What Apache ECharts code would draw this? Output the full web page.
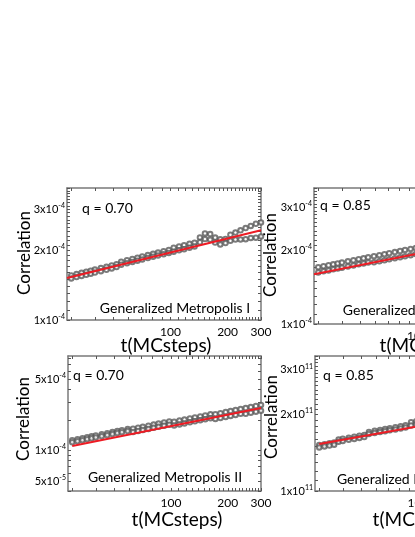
<!DOCTYPE html>
<html><head><meta charset="utf-8">
<script src="https://cdn.jsdelivr.net/npm/echarts@6/dist/echarts.min.js"></script>
<style>html,body{margin:0;padding:0;background:#fff;overflow:hidden;width:415px;height:537px}#c{width:530px;height:537px}</style>
</head><body><div id="c"></div>
<script>
// ---- data (t in MC steps, correlation in panel units) ----
const tSteps = [30,32,34,36,38,40,43,46,49,52,55,59,63,67,71,76,81,86,92,98,104,111,118,126,134,143,152,162,172,183,195,207,220,234,249,265,282,300];
const xLabelTicks = [100,200,300];
const xMinorTicks = [30,40,50,60,70,80,90,100,110,120,130,140,150,160,170,180,190,200,210,220,230,240,250,260,270,280,290,300];

// top-left: q = 0.70, Generalized Metropolis I  (units 1e-4)
const tlUpper = [1.556,1.576,1.596,1.614,1.631,1.648,1.673,1.695,1.717,1.738,1.783,1.809,1.832,1.855,1.877,1.903,1.927,1.951,1.978,2.002,2.047,2.074,2.099,2.127,2.153,2.266,2.358,2.345,2.264,2.226,2.233,2.328,2.380,2.432,2.486,2.541,2.596,2.630];
const tlLower = [1.510,1.530,1.548,1.566,1.583,1.600,1.623,1.645,1.667,1.690,1.731,1.756,1.779,1.801,1.822,1.848,1.871,1.894,1.920,1.944,1.968,1.994,2.018,2.045,2.070,2.161,2.230,2.216,2.155,2.116,2.144,2.192,2.219,2.223,2.228,2.256,2.260,2.289];
const tlFit = [[28.5,1.517],[300,2.435]];
const tlYTicks = [1,1.1,1.2,1.3,1.4,1.5,1.6,1.7,1.8,1.9,2,2.1,2.2,2.3,2.4,2.5,2.6,2.7,2.8,2.9,3,3.1,3.2,3.3,3.4,3.5,3.6,3.7];
const tlYLabels = [1,2,3];

// top-right: q = 0.85, Generalized Metropolis I  (units 1e-4)
const trUpper = [1.707,1.724,1.739,1.755,1.770,1.784,1.804,1.823,1.841,1.857,1.874,1.894,1.913,1.931,1.949,1.969,1.989,2.008,2.028,2.048,2.047,2.067,2.087,2.108,2.128,2.149,2.170,2.191,2.211,2.232,2.255,2.276,2.297,2.319,2.342,2.365,2.388,2.411];
const trLower = [1.626,1.642,1.657,1.673,1.687,1.700,1.719,1.737,1.754,1.770,1.786,1.787,1.805,1.822,1.839,1.858,1.876,1.894,1.913,1.932,1.910,1.930,1.948,1.968,1.986,2.006,2.026,2.045,2.064,2.083,2.105,2.125,2.144,2.165,2.185,2.207,2.229,2.250];
const trFit = [[28.5,1.597],[300,2.296]];
const trYTicks = [1,1.1,1.2,1.3,1.4,1.5,1.6,1.7,1.8,1.9,2,2.1,2.2,2.3,2.4,2.5,2.6,2.7,2.8,2.9,3,3.1,3.2,3.3,3.4,3.5,3.6];
const trYLabels = [1,2,3];

// bottom-left: q = 0.70, Generalized Metropolis II  (units 1e-4)
const blUpper = [1.263,1.294,1.324,1.352,1.379,1.407,1.446,1.482,1.517,1.552,1.585,1.627,1.637,1.676,1.712,1.757,1.800,1.840,1.887,1.932,1.923,1.970,2.015,2.066,2.114,2.166,2.216,2.269,2.278,2.332,2.387,2.442,2.497,2.556,2.616,2.678,2.740,2.804];
const blLower = [1.208,1.237,1.265,1.293,1.319,1.345,1.382,1.417,1.451,1.483,1.515,1.555,1.520,1.556,1.590,1.632,1.671,1.709,1.752,1.794,1.764,1.807,1.849,1.895,1.939,1.987,2.033,2.082,2.044,2.092,2.142,2.191,2.241,2.293,2.298,2.353,2.407,2.464];
const blFit = [[30,1.108],[300,2.621]];
const blYTicks = [0.4,0.5,0.6,0.7,0.8,0.9,1,2,3,4,5,6,7,8];
const blYLabels = [0.5,1,5];

// bottom-right: q = 0.85, Generalized Metropolis II  (units 1e11)
const brUpper = [1.516,1.529,1.541,1.553,1.596,1.606,1.622,1.636,1.650,1.663,1.709,1.725,1.740,1.754,1.767,1.783,1.799,1.814,1.865,1.881,1.895,1.857,1.873,1.889,1.904,1.921,1.937,1.953,1.969,1.985,2.001,2.018,2.034,2.051,2.068,2.085,2.102,2.120];
const brLower = [1.485,1.498,1.510,1.522,1.564,1.574,1.590,1.604,1.618,1.631,1.676,1.692,1.706,1.720,1.733,1.748,1.764,1.779,1.812,1.827,1.841,1.785,1.799,1.815,1.830,1.845,1.861,1.877,1.891,1.907,1.923,1.938,1.954,1.971,1.986,2.003,2.020,2.036];
const brFit = [[30,1.531],[300,2.078]];
const brYTicks = [1,1.1,1.2,1.3,1.4,1.5,1.6,1.7,1.8,1.9,2,2.1,2.2,2.3,2.4,2.5,2.6,2.7,2.8,2.9,3,3.1,3.2,3.3,3.4];
const brYLabels = [1,2,3];

// ---- layout ----
const FONT = 'Lato, "Liberation Sans", sans-serif';
const panels = [
  {unit:1e-4, up:tlUpper, lo:tlLower, fit:tlFit, yTicks:tlYTicks, yLabels:tlYLabels, ymin:1, ymax:3.7,
   grid:{left:67, top:188, width:194, height:132}, q:'q = 0.70', qx:82, qy:208, name:'Generalized Metropolis I', nx:175, ny:308,
   cx:25, cy:253, tx:166, ty:346},
  {unit:1e-4, up:trUpper, lo:trLower, fit:trFit, yTicks:trYTicks, yLabels:trYLabels, ymin:1, ymax:3.6,
   grid:{left:314, top:188, width:194, height:136}, q:'q = 0.85', qx:320, qy:205, name:'Generalized Metropolis I', nx:418, ny:310,
   cx:271, cy:255, tx:425, ty:346},
  {unit:1e-4, up:blUpper, lo:blLower, fit:blFit, yTicks:blYTicks, yLabels:blYLabels, ymin:0.4, ymax:8.5,
   grid:{left:68, top:356, width:193, height:135}, q:'q = 0.70', qx:73, qy:375, name:'Generalized Metropolis II', nx:165, ny:477,
   cx:24, cy:419, tx:177, ty:520},
  {unit:1e11, up:brUpper, lo:brLower, fit:brFit, yTicks:brYTicks, yLabels:brYLabels, ymin:1, ymax:3.4,
   grid:{left:315, top:356, width:193, height:135}, q:'q = 0.85', qx:323, qy:375, name:'Generalized Metropolis II', nx:414, ny:479,
   cx:272, cy:417, tx:418, ty:520}
];

const frame = {color:'#7a7a7a', width:1.5};
function yFmt(v){
  const e = Math.floor(Math.log10(v) + 1e-9);
  const m = Math.round(v / Math.pow(10, e));
  return '{m|' + m + 'x10}{e|' + e + '}';
}
const grids = [], xAxes = [], yAxes = [], series = [], graphics = [];
panels.forEach((p, i) => {
  grids.push(Object.assign({containLabel:false}, p.grid));
  const xBase = {gridIndex:i, type:'log', logBase:10, min:28.5, max:300,
    axisLine:{show:true, onZero:false, lineStyle:frame},
    axisTick:{show:true, inside:true, length:3, customValues:xMinorTicks, lineStyle:{color:'#555', width:1}},
    splitLine:{show:false}, minorTick:{show:false}, minorSplitLine:{show:false}};
  xAxes.push(Object.assign({}, xBase, {position:'bottom',
    axisLabel:{show:true, customValues:xLabelTicks, margin:6, fontSize:12, fontFamily:FONT, color:'#000',
      formatter: v => String(Math.round(v))}}));
  xAxes.push(Object.assign({}, xBase, {position:'top', axisLabel:{show:false}}));
  const yT = p.yTicks.map(v => v * p.unit);
  const yL = p.yLabels.map(v => v * p.unit);
  const yBase = {gridIndex:i, type:'log', logBase:10, min:p.ymin * p.unit, max:p.ymax * p.unit,
    axisLine:{show:true, onZero:false, lineStyle:frame},
    axisTick:{show:true, inside:true, length:3, customValues:yT, lineStyle:{color:'#555', width:1}},
    splitLine:{show:false}, minorTick:{show:false}};
  yAxes.push(Object.assign({}, yBase, {position:'left',
    axisLabel:{show:true, customValues:yL, margin:2, formatter:yFmt,
      rich:{m:{fontSize:11, fontFamily:FONT, color:'#000', lineHeight:14, verticalAlign:'middle'},
            e:{fontSize:7, fontFamily:FONT, color:'#000', lineHeight:7, verticalAlign:'top'}}}}));
  yAxes.push(Object.assign({}, yBase, {position:'right', axisLabel:{show:false}}));
  const sc = {type:'scatter', xAxisIndex:2*i, yAxisIndex:2*i, symbol:'emptyCircle', symbolSize:4.5,
    itemStyle:{color:'#5a5a5a', borderWidth:0.7}, silent:true, animation:false};
  series.push(Object.assign({}, sc, {data: tSteps.map((t, k) => [t, p.up[k] * p.unit])}));
  series.push(Object.assign({}, sc, {data: tSteps.map((t, k) => [t, p.lo[k] * p.unit])}));
  series.push({type:'line', xAxisIndex:2*i, yAxisIndex:2*i, symbol:'none', animation:false, z:5,
    lineStyle:{color:'#ed1c24', width:2}, data: p.fit.map(d => [d[0], d[1] * p.unit])});
  graphics.push({type:'text', x:p.qx, y:p.qy, style:{text:p.q, font:'14px ' + FONT, fill:'#000', textVerticalAlign:'middle'}});
  graphics.push({type:'text', x:p.nx, y:p.ny, style:{text:p.name, font:'14px ' + FONT, fill:'#000', textAlign:'center', textVerticalAlign:'middle'}});
  graphics.push({type:'text', x:p.cx, y:p.cy, rotation:Math.PI/2, style:{text:'Correlation', font:'17px ' + FONT, fill:'#000', textAlign:'center', textVerticalAlign:'middle'}});
  graphics.push({type:'text', x:p.tx, y:p.ty, style:{text:'t(MCsteps)', font:'19px ' + FONT, fill:'#000', textAlign:'center', textVerticalAlign:'middle'}});
});

const chart = echarts.init(document.getElementById('c'), null, {renderer:'canvas'});
chart.setOption({
  animation:false,
  backgroundColor:'#fff',
  grid:grids, xAxis:xAxes, yAxis:yAxes, series:series,
  graphic:{elements:graphics}
});
</script></body></html>
